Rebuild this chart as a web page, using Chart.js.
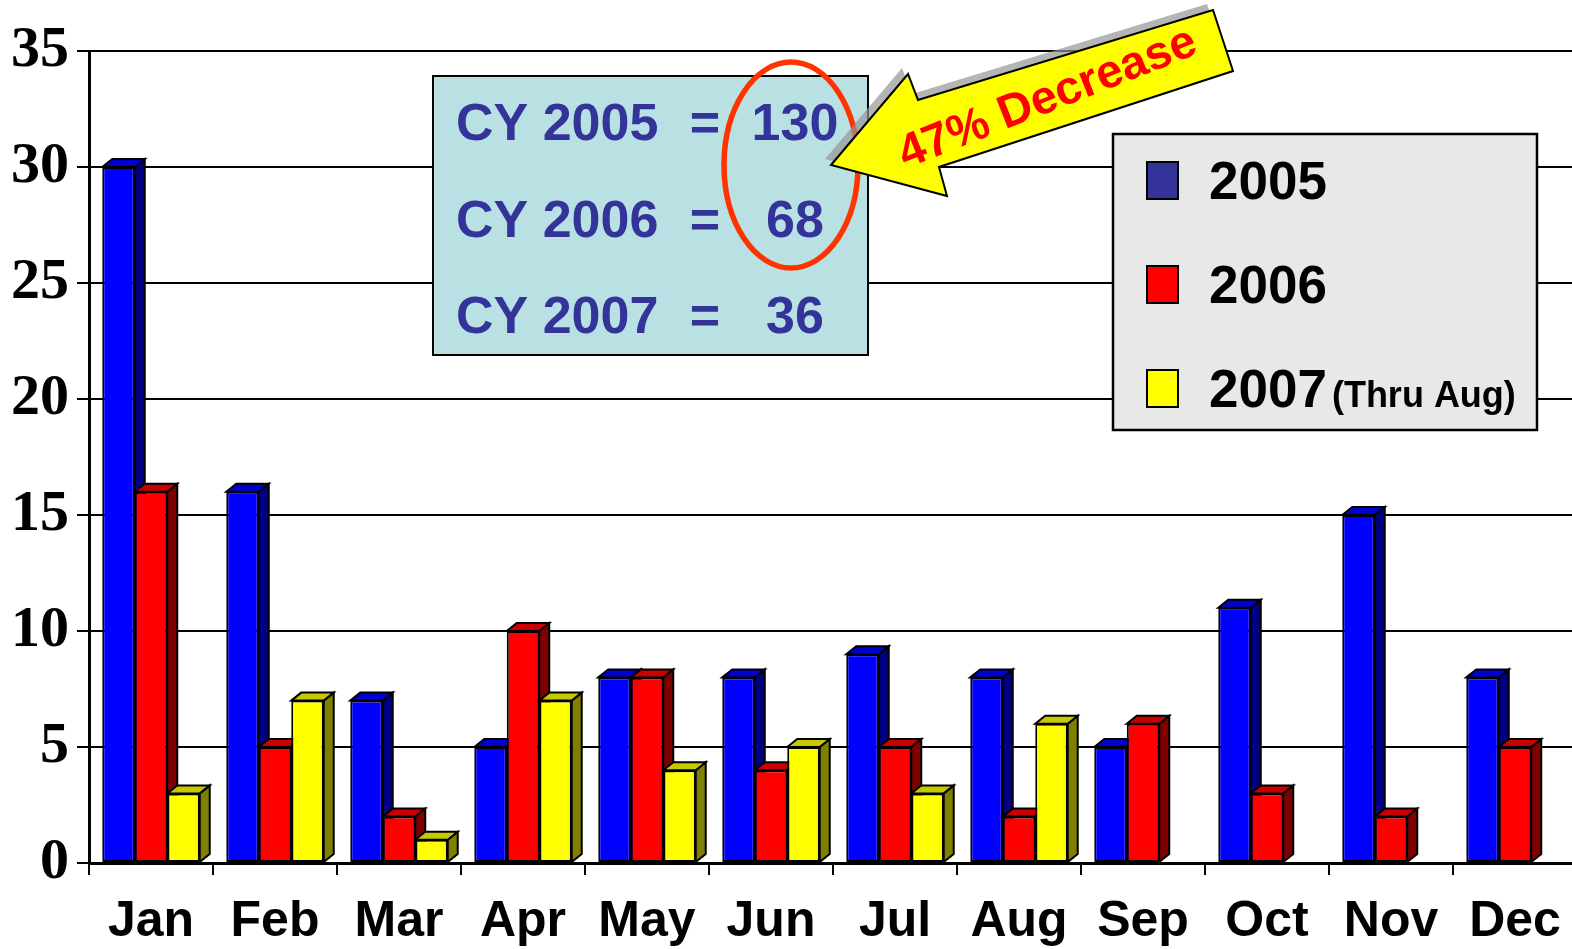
<!DOCTYPE html>
<html>
<head>
<meta charset="utf-8">
<script src="https://cdn.jsdelivr.net/npm/chart.js@4/dist/chart.umd.min.js"></script>
<style>
  html, body { margin: 0; padding: 0; background: #fff; overflow: hidden; }
  #wrap { width: 1580px; height: 949px; position: relative; }
</style>
</head>
<body>
<div id="wrap"><canvas id="chart"></canvas></div>
<script>
var months = ['Jan', 'Feb', 'Mar', 'Apr', 'May', 'Jun', 'Jul', 'Aug', 'Sep', 'Oct', 'Nov', 'Dec'];
var years = ['2005', '2006', '2007'];
var cases2005 = [30, 16, 7, 5, 8, 8, 9, 8, 5, 11, 15, 8];
var cases2006 = [16, 5, 2, 10, 8, 4, 5, 2, 6, 3, 2, 5];
var cases2007 = [3, 7, 1, 7, 4, 5, 3, 6, null, null, null, null];
var yTicks = [0, 5, 10, 15, 20, 25, 30, 35];
var note2007 = '(Thru Aug)';
var decreaseText = '47% Decrease';

var frontColors = ['#0000ff', '#ff0000', '#ffff00'];
var topColors = ['#0000d0', '#c80000', '#c8c800'];
var sideColors = ['#000080', '#800000', '#808000'];
var swatchColors = ['#333399', '#ff0000', '#ffff00'];

function total(arr) {
    var s = 0;
    for (var i = 0; i < arr.length; i++) {
        if (arr[i] != null) s += arr[i];
    }
    return s;
}

// depth of the fake 3d bars
var DX = 10, DY = 8;

var bars3d = {
    id: 'bars3d',
    beforeDatasetsDraw: function(chart) {
        var ctx = chart.ctx;
        ctx.save();
        ctx.lineWidth = 2;
        ctx.strokeStyle = '#000';
        chart.data.datasets.forEach(function(ds, i) {
            var meta = chart.getDatasetMeta(i);
            meta.data.forEach(function(bar, j) {
                if (ds.data[j] == null) return;
                var p = bar.getProps(['x', 'y', 'base', 'width'], true);
                var x1 = p.x - p.width / 2, x2 = p.x + p.width / 2;
                var top = p.y, bot = p.base;
                // side
                ctx.beginPath();
                ctx.moveTo(x2, top);
                ctx.lineTo(x2 + DX, top - DY);
                ctx.lineTo(x2 + DX, bot - DY);
                ctx.lineTo(x2, bot);
                ctx.closePath();
                ctx.fillStyle = sideColors[i];
                ctx.fill();
                ctx.stroke();
                // top
                ctx.beginPath();
                ctx.moveTo(x1, top);
                ctx.lineTo(x1 + DX, top - DY);
                ctx.lineTo(x2 + DX, top - DY);
                ctx.lineTo(x2, top);
                ctx.closePath();
                ctx.fillStyle = topColors[i];
                ctx.fill();
                ctx.stroke();
            });
        });
        ctx.restore();
    }
};

var notes = {
    id: 'notes',
    afterDraw: function(chart) {
        var ctx = chart.ctx;
        ctx.save();

        // totals box
        ctx.fillStyle = '#b9e0e3';
        ctx.fillRect(433, 76, 435, 279);
        ctx.lineWidth = 2;
        ctx.strokeStyle = '#000';
        ctx.strokeRect(433, 76, 435, 279);

        var totals = [total(cases2005), total(cases2006), total(cases2007)];
        ctx.font = 'bold 52px "Liberation Sans", Arial, sans-serif';
        ctx.fillStyle = '#333399';
        ctx.textBaseline = 'alphabetic';
        for (var i = 0; i < 3; i++) {
            var by = 140 + i * 96.5;
            ctx.textAlign = 'left';
            ctx.fillText('CY ' + years[i], 456, by);
            ctx.textAlign = 'center';
            ctx.fillText('=', 705, by);
            ctx.fillText(String(totals[i]), 795, by);
        }

        // red ellipse
        ctx.beginPath();
        ctx.ellipse(791, 165, 67, 103, 0, 0, Math.PI * 2);
        ctx.lineWidth = 5.5;
        ctx.strokeStyle = '#ff3300';
        ctx.stroke();

        // arrow
        var arrow = [[831, 165], [908, 74], [918, 100], [1213, 10], [1233, 71], [939, 167], [947, 196]];
        function arrowPath(ox, oy) {
            ctx.beginPath();
            arrow.forEach(function(pt, k) {
                if (k === 0) ctx.moveTo(pt[0] + ox, pt[1] + oy);
                else ctx.lineTo(pt[0] + ox, pt[1] + oy);
            });
            ctx.closePath();
        }
        arrowPath(-6, -6);
        ctx.fillStyle = 'rgba(150,150,150,0.7)';
        ctx.fill();
        arrowPath(0, 0);
        ctx.fillStyle = '#ffff00';
        ctx.fill();
        ctx.lineWidth = 2;
        ctx.strokeStyle = '#000';
        ctx.stroke();

        ctx.save();
        ctx.translate(1047, 97);
        ctx.rotate(-21.5 * Math.PI / 180);
        ctx.font = 'bold 47px "Liberation Sans", Arial, sans-serif';
        ctx.fillStyle = '#ff0000';
        ctx.textAlign = 'center';
        ctx.textBaseline = 'middle';
        ctx.fillText(decreaseText, 0, 2);
        ctx.restore();

        // legend
        ctx.fillStyle = '#e8e8e8';
        ctx.fillRect(1113, 134, 424, 296);
        ctx.lineWidth = 2.5;
        ctx.strokeStyle = '#000';
        ctx.strokeRect(1113, 134, 424, 296);
        for (var k = 0; k < years.length; k++) {
            var cy = 180 + k * 104;
            ctx.fillStyle = swatchColors[k];
            ctx.fillRect(1147, cy - 18, 31, 37);
            ctx.lineWidth = 2;
            ctx.strokeRect(1147, cy - 18, 31, 37);
            ctx.fillStyle = '#000';
            ctx.textAlign = 'left';
            ctx.textBaseline = 'alphabetic';
            ctx.font = 'bold 53px "Liberation Sans", Arial, sans-serif';
            ctx.fillText(years[k], 1209, cy + 19);
            if (k === 2) {
                var w = ctx.measureText(years[k]).width;
                ctx.font = 'bold 36px "Liberation Sans", Arial, sans-serif';
                ctx.fillText(note2007, 1209 + w + 5, cy + 19);
            }
        }
        ctx.restore();
    }
};

var ctx = document.getElementById('chart').getContext('2d');

var chart = new Chart(ctx, {
    type: 'bar',
    data: {
        labels: months,
        datasets: [
            { label: years[0], data: cases2005 },
            { label: years[1], data: cases2006 },
            { label: years[2], data: cases2007 }
        ].map(function(ds, i) {
            ds.backgroundColor = frontColors[i];
            ds.borderColor = '#000';
            ds.borderWidth = 2;
            ds.borderSkipped = false;
            ds.barPercentage = 1;
            ds.categoryPercentage = 0.786;
            return ds;
        })
    },
    options: {
        responsive: true,
        maintainAspectRatio: false,
        animation: false,
        layout: { padding: { top: 51, right: 3, left: 0, bottom: 0 } },
        plugins: {
            legend: { display: false },
            tooltip: { enabled: false }
        },
        scales: {
            x: {
                afterFit: function(scale) { scale.height = 86; },
                grid: {
                    offset: true,
                    drawOnChartArea: false,
                    tickLength: 12,
                    color: '#000',
                    lineWidth: 2
                },
                border: { display: true, color: '#000', width: 3 },
                ticks: {
                    autoSkip: false,
                    maxRotation: 0,
                    padding: 17,
                    color: '#000',
                    font: { family: '"Liberation Sans", Arial, sans-serif', size: 50, weight: 'bold' }
                }
            },
            y: {
                min: 0,
                max: 35,
                afterFit: function(scale) { scale.width = 89; },
                afterBuildTicks: function(scale) {
                    scale.ticks = yTicks.map(function(v) { return { value: v }; });
                },
                grid: {
                    color: '#000',
                    lineWidth: 2,
                    tickLength: 12
                },
                border: { display: true, color: '#000', width: 3 },
                ticks: {
                    padding: 8,
                    color: '#000',
                    font: { family: '"Liberation Serif", "Times New Roman", serif', size: 58, weight: 'bold' }
                }
            }
        }
    },
    plugins: [bars3d, notes]
});
</script>
</body>
</html>
